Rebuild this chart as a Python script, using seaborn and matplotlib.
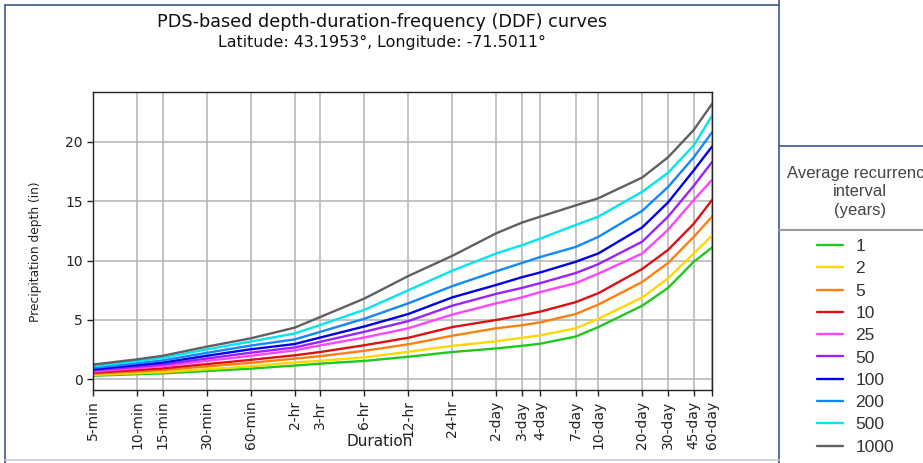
import numpy as np
import pandas as pd
import matplotlib
matplotlib.use("Agg")
import matplotlib.pyplot as plt
import matplotlib.lines as mlines
import seaborn as sns

# ----------------------------------------------------------
# Data
# ----------------------------------------------------------
duration_labels = ["5-min", "10-min", "15-min", "30-min", "60-min", "2-hr", "3-hr",
                   "6-hr", "12-hr", "24-hr", "2-day", "3-day", "4-day", "7-day",
                   "10-day", "20-day", "30-day", "45-day", "60-day"]
duration_minutes = [5, 10, 15, 30, 60, 120, 180, 360, 720, 1440, 2880, 4320, 5760,
                    10080, 14400, 28800, 43200, 64800, 86400]

ari_years = ["1", "2", "5", "10", "25", "50", "100", "200", "500", "1000"]

depth_1 = [0.30, 0.43, 0.50, 0.70, 0.90, 1.16, 1.32, 1.55, 1.90, 2.30, 2.60, 2.82, 3.00, 3.60, 4.40, 6.20, 7.70, 9.90, 11.10]
depth_2 = [0.37, 0.52, 0.61, 0.85, 1.09, 1.42, 1.56, 1.85, 2.32, 2.82, 3.20, 3.50, 3.70, 4.30, 5.10, 6.90, 8.50, 10.60, 12.10]
depth_5 = [0.47, 0.66, 0.78, 1.09, 1.39, 1.74, 1.95, 2.40, 2.95, 3.67, 4.30, 4.55, 4.80, 5.50, 6.30, 8.20, 9.80, 12.00, 13.70]
depth_10 = [0.55, 0.78, 0.92, 1.28, 1.64, 2.02, 2.30, 2.87, 3.50, 4.40, 5.00, 5.40, 5.70, 6.50, 7.25, 9.30, 10.90, 13.10, 15.10]
depth_25 = [0.66, 0.94, 1.11, 1.55, 1.98, 2.44, 2.86, 3.52, 4.30, 5.45, 6.40, 6.90, 7.35, 8.10, 8.90, 10.60, 12.60, 15.10, 16.80]
depth_50 = [0.75, 1.06, 1.25, 1.75, 2.24, 2.68, 3.16, 4.00, 4.90, 6.20, 7.20, 7.70, 8.10, 8.95, 9.70, 11.60, 13.70, 16.30, 18.30]
depth_100 = [0.85, 1.20, 1.41, 1.98, 2.53, 2.97, 3.52, 4.45, 5.50, 6.90, 7.95, 8.60, 9.00, 9.90, 10.60, 12.80, 14.90, 17.60, 19.60]
depth_200 = [0.96, 1.35, 1.59, 2.23, 2.84, 3.36, 4.00, 5.10, 6.40, 7.85, 9.10, 9.80, 10.30, 11.15, 12.00, 14.20, 16.20, 18.70, 20.80]
depth_500 = [1.10, 1.53, 1.80, 2.52, 3.18, 3.86, 4.58, 5.85, 7.50, 9.15, 10.60, 11.30, 11.85, 13.00, 13.70, 15.80, 17.40, 19.70, 22.20]
depth_1000 = [1.24, 1.68, 1.98, 2.75, 3.45, 4.35, 5.25, 6.80, 8.70, 10.40, 12.30, 13.20, 13.70, 14.65, 15.25, 17.00, 18.70, 21.00, 23.20]

line_colors = ["#1ec81e", "#ffd700", "#ff7f0e", "#dd1111", "#ff44ff",
               "#9922ff", "#0000ee", "#1188ff", "#00e5ee", "#606060"]

all_depths = [depth_1, depth_2, depth_5, depth_10, depth_25, depth_50,
              depth_100, depth_200, depth_500, depth_1000]

rows = []
for ari, depths in zip(ari_years, all_depths):
    for dur, val in zip(duration_minutes, depths):
        rows.append({"Duration": dur, "Depth": val, "ARI": ari})
df = pd.DataFrame(rows)

# ----------------------------------------------------------
# Figure
# ----------------------------------------------------------
W, H = 923, 463
sns.set_style("whitegrid", {"grid.color": "#b4b4b4", "axes.edgecolor": "#222222"})
plt.rcParams["font.family"] = ["DejaVu Sans"]

fig = plt.figure(figsize=(W / 100, H / 100), dpi=100)
ax = fig.add_axes([93 / W, 1 - 390 / H, (712 - 93) / W, (390 - 92) / H])

sns.lineplot(data=df, x="Duration", y="Depth", hue="ARI", hue_order=ari_years,
             palette=line_colors, linewidth=1.7, ax=ax)

ax.set_xscale("log")
ax.set_xlim(duration_minutes[0], duration_minutes[-1])
ax.set_ylim(-0.9, 24.2)
ax.set_xticks(duration_minutes)
ax.set_xticklabels(duration_labels, rotation=90)
ax.minorticks_off()
ax.set_yticks([0, 5, 10, 15, 20])
ax.tick_params(axis="both", labelsize=10, length=4, width=1, colors="#222222",
               direction="out", bottom=True, left=True)
ax.grid(True, color="#b4b4b4", linewidth=1.1)
for s in ax.spines.values():
    s.set_linewidth(1.0)
    s.set_color("#222222")

ax.set_xlabel("")
ax.set_ylabel("Precipitation depth (in)", fontsize=8.8, color="#222222")
ax.yaxis.set_label_coords((42 - 93) / (712 - 93), (390 - 252) / (390 - 92))
fig.text(380 / W, 1 - 441 / H, "Duration", fontsize=11, ha="center", va="center",
         color="#222222")

fig.text(382 / W, 1 - 22 / H, "PDS-based depth-duration-frequency (DDF) curves",
         fontsize=12.7, ha="center", va="center", color="#111111")
fig.text(382 / W, 1 - 42 / H, "Latitude: 43.1953°, Longitude: -71.5011°",
         fontsize=11.4, ha="center", va="center", color="#111111")

# legend outside on the right
handles, labels = ax.get_legend_handles_labels()
ax.get_legend().remove()
fig.legend(handles, labels, loc="upper left",
           bbox_to_anchor=(817 / W, 1 - 239 / H), frameon=False,
           prop={"family": "Liberation Sans", "size": 12.5},
           labelcolor="#333333", handlelength=1.5, handletextpad=0.72,
           labelspacing=0.41, borderpad=0, borderaxespad=0)
fig.text(860 / W, 1 - 192 / H, "Average recurrence\ninterval\n(years)",
         fontsize=12, family="Liberation Sans", ha="center", va="center",
         multialignment="center", color="#444444", linespacing=1.32)

# page frame lines
frame_color = "#3f5592"
def px_line(x0, y0, x1, y1, color, lw):
    fig.add_artist(mlines.Line2D([x0 / W, x1 / W], [1 - y0 / H, 1 - y1 / H],
                                 transform=fig.transFigure, color=color, linewidth=lw))

px_line(5, 5, 779, 5, frame_color, 1.2)
px_line(5, 5, 5, 463, frame_color, 1.2)
px_line(779, 0, 779, 463, frame_color, 1.2)
px_line(779, 146, 923, 146, frame_color, 1.2)
px_line(779, 230, 923, 230, "#999999", 1.5)
px_line(5, 460, 779, 460, "#c8c8e0", 1.2)

fig.savefig("out.png", dpi=100)
